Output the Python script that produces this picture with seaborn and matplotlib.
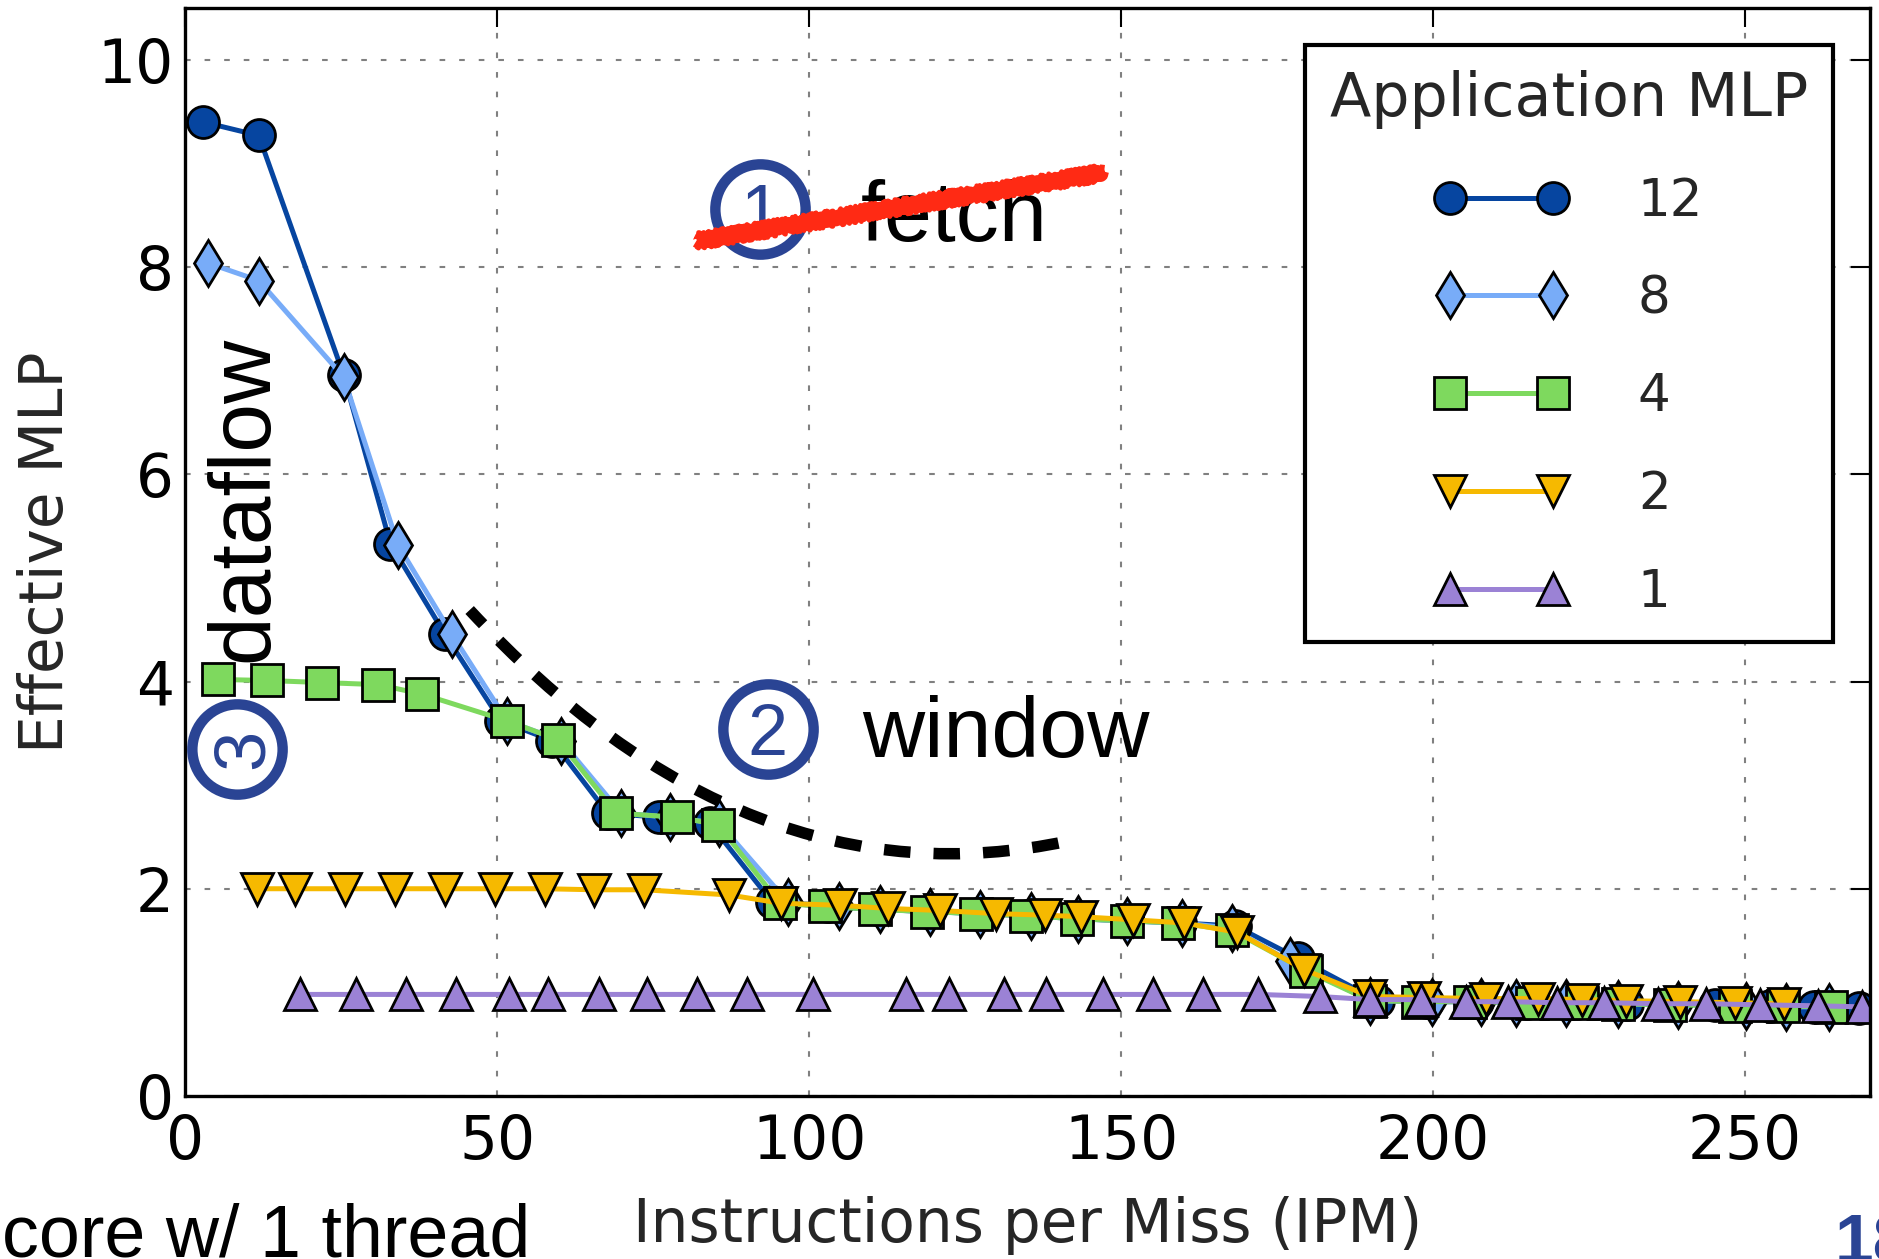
import matplotlib
matplotlib.use("Agg")
import matplotlib.pyplot as plt
import seaborn as sns
from matplotlib.path import Path
from matplotlib.patches import PathPatch

# ---------------- data ----------------
x_mlp12 = [2.9, 11.8, 25.4, 32.9, 41.6, 50.6, 58.8, 67.7, 75.9, 84.1, 94.1, 103.0, 111.0, 119.0,
           127.0, 135.0, 143.0, 151.0, 159.5, 168.3, 178.3, 191.1, 199.0, 207.0, 215.0, 223.0,
           231.0, 238.0, 245.1, 254.0, 261.0, 268.2]
y_mlp12 = [9.40, 9.27, 6.96, 5.33, 4.46, 3.62, 3.43, 2.73, 2.69, 2.63, 1.87, 1.83, 1.80, 1.78,
           1.76, 1.74, 1.71, 1.69, 1.67, 1.64, 1.33, 0.92, 0.91, 0.91, 0.90, 0.90,
           0.89, 0.89, 0.88, 0.87, 0.86, 0.85]

x_mlp8 = [3.6, 11.8, 25.4, 34.1, 42.7, 51.6, 60.2, 69.9, 77.7, 85.6, 96.6, 104.8, 111.4, 119.4,
          127.4, 135.5, 143.1, 151.0, 159.7, 167.7, 177.0, 189.9, 199.8, 207.7, 213.3, 221.3,
          229.7, 239.3, 250.2, 256.6, 263.4]
y_mlp8 = [8.04, 7.87, 6.94, 5.32, 4.46, 3.62, 3.43, 2.73, 2.69, 2.63, 1.87, 1.83, 1.80, 1.78,
          1.76, 1.74, 1.71, 1.69, 1.67, 1.62, 1.30, 0.92, 0.91, 0.91, 0.90, 0.90,
          0.89, 0.88, 0.87, 0.86, 0.86]

x_mlp4 = [5.2, 13.2, 21.9, 30.9, 37.9, 51.6, 59.7, 69.1, 78.8, 85.4, 95.3, 102.5, 110.6, 118.9,
          126.7, 134.8, 143.0, 151.0, 159.1, 167.7, 179.6, 189.9, 197.6, 205.9, 215.9, 223.9,
          229.7, 238.0, 248.3, 256.0, 263.7]
y_mlp4 = [4.02, 4.01, 3.99, 3.97, 3.88, 3.62, 3.44, 2.73, 2.69, 2.62, 1.86, 1.83, 1.80, 1.78,
          1.76, 1.74, 1.71, 1.69, 1.67, 1.60, 1.21, 0.92, 0.91, 0.91, 0.90, 0.90,
          0.89, 0.88, 0.87, 0.87, 0.86]

x_mlp2 = [11.6, 17.6, 25.6, 33.6, 41.6, 49.7, 57.7, 65.6, 73.6, 87.2, 95.5, 105.0, 112.6, 121.0,
          129.9, 137.8, 143.6, 151.9, 160.0, 168.6, 179.3, 189.9, 198.5, 208.5, 216.8, 223.9,
          230.9, 239.6, 248.3, 256.3]
y_mlp2 = [2.00, 2.00, 2.00, 2.00, 2.00, 2.00, 2.00, 1.99, 1.99, 1.94, 1.86, 1.84, 1.81, 1.79,
          1.76, 1.745, 1.73, 1.70, 1.67, 1.58, 1.22, 0.96, 0.95, 0.94, 0.94, 0.93,
          0.92, 0.91, 0.90, 0.89]

x_mlp1 = [18.4, 27.4, 35.4, 43.4, 51.9, 58.1, 66.3, 74.0, 82.0, 90.1, 100.6, 115.5, 122.4, 131.2,
          137.9, 147.1, 155.1, 163.1, 172.0, 181.8, 189.9, 198.1, 205.3, 212.0, 219.9, 227.4,
          236.1, 243.8, 252.4, 261.6, 268.7]
y_mlp1 = [0.98, 0.98, 0.98, 0.98, 0.98, 0.98, 0.98, 0.98, 0.98, 0.98, 0.98, 0.98, 0.98, 0.98,
          0.98, 0.98, 0.98, 0.98, 0.98, 0.96, 0.93, 0.93, 0.91, 0.91, 0.90, 0.90,
          0.89, 0.89, 0.88, 0.87, 0.86]

series_labels = ["12", "8", "4", "2", "1"]
series_x = [x_mlp12, x_mlp8, x_mlp4, x_mlp2, x_mlp1]
series_y = [y_mlp12, y_mlp8, y_mlp4, y_mlp2, y_mlp1]
series_colors = ["#0645a0", "#78acf8", "#7ed95e", "#f6b900", "#9b82d5"]
series_markers = ["o", "d", "s", "v", "^"]

x_ticks = [0, 50, 100, 150, 200, 250]
y_ticks = [0, 2, 4, 6, 8, 10]

# ---------------- style ----------------
sns.set_style("white")
plt.rcParams['font.family'] = ['DejaVu Sans']
FS = 43
LEG_FS = 37
ANN_FONT = ['Liberation Sans', 'DejaVu Sans']
RING = "#2a4494"

fig = plt.figure(figsize=(18.79, 12.59), dpi=100)
ax = fig.add_axes([0.0985, 0.1295, 0.8967, 0.8641])

for lab, xs, ys, c, m in zip(series_labels, series_x, series_y, series_colors, series_markers):
    sns.lineplot(x=xs, y=ys, ax=ax, color=c, marker=m, markersize=23,
                 markeredgecolor="black", markeredgewidth=2.0, linewidth=3.6,
                 label=lab, sort=False, estimator=None, errorbar=None)
    ln = ax.lines[-1]
    ln.set_markersize(23)
    ln.set_linewidth(3.6)
    ln.set_markeredgewidth(2.0)
    ln.set_markeredgecolor("black")

ax.set_xlim(0, 270)
ax.set_ylim(0, 10.5)
ax.set_xticks(x_ticks)
ax.set_yticks(y_ticks)

ax.grid(True, color="#808080", linestyle=(0, (2.7, 6.7)), linewidth=1.5)
ax.set_axisbelow(True)
for sp in ax.spines.values():
    sp.set_visible(True)
    sp.set_color("black")
    sp.set_linewidth(2.4)

ax.tick_params(axis="both", direction="in", length=14, width=1.5, top=True, right=True,
               labelsize=FS, colors="black")
ax.tick_params(axis="x", pad=12)
ax.tick_params(axis="y", pad=8)

ax.set_xlabel("Instructions per Miss (IPM)", fontsize=FS)
ax.set_ylabel("Effective MLP", fontsize=FS)
ax.yaxis.set_label_coords(-0.0647, 0.5)
ax.xaxis.set_label_coords(0.5, -0.092)

leg = ax.legend(title="Application MLP", loc="upper right", bbox_to_anchor=(0.978, 0.966),
                borderaxespad=0, numpoints=2, fontsize=LEG_FS, title_fontsize=43.5,
                handlelength=2.6, handletextpad=1.35, labelspacing=0.93, borderpad=0.48,
                fancybox=False, framealpha=1, edgecolor="black")
leg.get_frame().set_linewidth(3)

# ---------------- slide annotations ----------------
# dashed "window" curve
curve = Path([(45.6, 4.69), (90.0, 1.8), (141.5, 2.46)],
             [Path.MOVETO, Path.CURVE3, Path.CURVE3])
ax.add_patch(PathPatch(curve, fill=False, edgecolor="black", linewidth=8.3,
                       linestyle=(0.6, (2.3, 2.0)), capstyle="butt", zorder=2.5))

def ring(x, y, digit, rot=0):
    ax.plot([x], [y], marker="o", markersize=65, markerfacecolor="none",
            markeredgecolor=RING, markeredgewidth=7.5, linestyle="none",
            label="_nolegend_", zorder=6, clip_on=False)
    ax.text(x, y, digit, ha="center", va="center_baseline", rotation=rot,
            rotation_mode="anchor", fontsize=52, color=RING, family=ANN_FONT, zorder=6)

ring(92.2, 8.56, "1")
ring(93.4, 3.54, "2")
ring(8.3, 3.35, "3", rot=90)

ax.text(108.3, 8.25, "fetch", ha="left", va="baseline", fontsize=62,
        family=ANN_FONT, color="black", zorder=6)
ax.text(108.5, 3.27, "window", ha="left", va="baseline", fontsize=62,
        family=ANN_FONT, color="black", zorder=6)
ax.text(13.2, 4.19, "dataflow", ha="left", va="baseline", rotation=90,
        rotation_mode="anchor", fontsize=63, family=ANN_FONT, color="black", zorder=6)

# red strike-through scribble over "fetch"
for dy, lw, sk in [(0.0, 9.0, (2.5, 6, 3)), (0.05, 3.5, (3.0, 4, 4)), (-0.05, 3.5, (3.0, 5, 4))]:
    ln, = ax.plot([81.9, 147.1], [8.25 + dy, 8.91 + dy], color="#ff2a14", linewidth=lw,
                  solid_capstyle="butt", label="_nolegend_", zorder=7, clip_on=False)
    ln.set_sketch_params(scale=sk[0], length=sk[1], randomness=sk[2])

# slide fragments around the chart
fig.text(0.001, 0.0016, "core w/ 1 thread", ha="left", va="baseline", fontsize=53,
         family=ANN_FONT, color="black")
fig.text(1835 / 1879, -0.003, "18", ha="left", va="baseline", fontsize=50,
         family=ANN_FONT, fontweight="bold", color=RING)

fig.savefig("out.png", dpi=100)
